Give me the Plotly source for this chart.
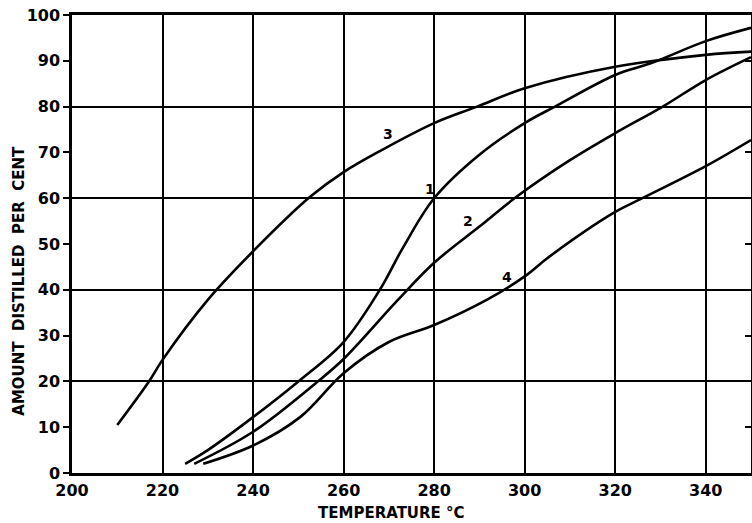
import plotly.graph_objects as go

# Curve 1
c1_x = [225, 230, 240, 250, 260, 268, 273, 280, 290, 300, 306.7, 320, 328, 340, 350]
c1_y = [2, 5, 12.2, 20, 28.6, 40, 49, 60, 69.5, 76.4, 80, 86.9, 89.5, 94.3, 97.2]
# Curve 2
c2_x = [227, 240, 254.3, 260, 272, 280, 290, 298.2, 310, 320, 330.5, 340, 350]
c2_y = [2, 9, 20, 24.9, 37.8, 45.9, 53.8, 60.3, 68.3, 74.2, 80, 85.8, 90.8]
# Curve 3
c3_x = [210, 217, 220, 230, 240.3, 252.6, 260, 268.4, 280, 289.5, 300, 320, 340, 350]
c3_y = [10.5, 20, 24.7, 37.8, 48.7, 60.3, 65.7, 70.5, 76.4, 80, 84, 88.7, 91.3, 92]
# Curve 4
c4_x = [229, 240, 250.4, 260, 270, 280, 291.6, 300.4, 305, 320, 326, 340, 350]
c4_y = [2, 6, 12.2, 21.8, 28.6, 32.3, 37.8, 43.2, 46.9, 57, 60, 67, 72.7]

labels = ["1", "2", "3", "4"]
label_x = [279, 287.5, 269.8, 296]
label_y = [62, 55, 74, 42.8]

x_ticks = [200, 220, 240, 260, 280, 300, 320, 340]
y_ticks = [0, 10, 20, 30, 40, 50, 60, 70, 80, 90, 100]
y_grid = [20, 40, 60, 80, 100]
y_right_ticks = [10, 30, 50, 70, 90]

x_title = "TEMPERATURE °C"
y_title = "AMOUNT&nbsp; DISTILLED&nbsp; PER&nbsp; CENT"

FONT = "'DejaVu Sans', sans-serif"
BOLD = dict(family=FONT, color="black", weight=700)

fig = go.Figure()
for xs, ys in [(c1_x, c1_y), (c2_x, c2_y), (c3_x, c3_y), (c4_x, c4_y)]:
    fig.add_trace(go.Scatter(x=xs, y=ys, mode="lines",
                             line=dict(color="black", width=2.6, shape="spline", smoothing=1.0),
                             showlegend=False, hoverinfo="skip"))

# invisible traces to activate overlay axes
fig.add_trace(go.Scatter(x=[200], y=[0], yaxis="y2", mode="markers",
                         marker=dict(opacity=0), showlegend=False, hoverinfo="skip"))
fig.add_trace(go.Scatter(x=[200], y=[0], yaxis="y3", mode="markers",
                         marker=dict(opacity=0), showlegend=False, hoverinfo="skip"))

for t, lx, ly in zip(labels, label_x, label_y):
    fig.add_annotation(x=lx, y=ly, text=t, showarrow=False, font=dict(size=14, **BOLD))

# axis titles
fig.add_annotation(xref="paper", yref="paper", x=0.47, y=-0.088, text=x_title,
                   showarrow=False, xanchor="center", yanchor="middle",
                   font=dict(size=15, **BOLD))
fig.add_annotation(xref="paper", yref="paper", x=-0.078, y=0.42, text=y_title,
                   showarrow=False, xanchor="center", yanchor="middle", textangle=-90,
                   font=dict(size=15, **BOLD))

fig.update_layout(
    width=752, height=523,
    margin=dict(l=72, r=1, t=15, b=50),
    paper_bgcolor="white", plot_bgcolor="white",
    font=dict(family=FONT, color="black"),
    xaxis=dict(range=[200, 350], tickvals=x_ticks, showgrid=True, gridcolor="black",
               gridwidth=2, showline=True, linecolor="black", linewidth=2.5, mirror=True,
               ticks="", zeroline=False, automargin=False, ticklabelstandoff=1,
               ticklabeloverflow="allow", tickfont=dict(size=16, **BOLD)),
    yaxis=dict(range=[0, 100], tickvals=y_ticks, showgrid=False, showline=True,
               linecolor="black", linewidth=2.5, ticks="outside", ticklen=6, tickwidth=2,
               tickcolor="black", zeroline=False, automargin=False, ticklabelstandoff=0,
               ticklabeloverflow="allow", tickfont=dict(size=16, **BOLD)),
    yaxis2=dict(range=[0, 100], overlaying="y", tickvals=y_grid, showgrid=True,
                gridcolor="black", gridwidth=2, showticklabels=False, ticks="",
                zeroline=False, showline=False, automargin=False),
    yaxis3=dict(range=[0, 100], overlaying="y", side="right", tickvals=y_right_ticks,
                showgrid=False, showticklabels=False, ticks="inside", ticklen=6,
                tickwidth=2, tickcolor="black", showline=True, linecolor="black",
                linewidth=2.5, zeroline=False, automargin=False),
)

# remove the page's default body margin so the 752x523 figure fills the window
fig.write_html("out.html", config={"displayModeBar": False},
               post_script="document.body.style.margin='0';document.body.style.overflow='hidden';")
